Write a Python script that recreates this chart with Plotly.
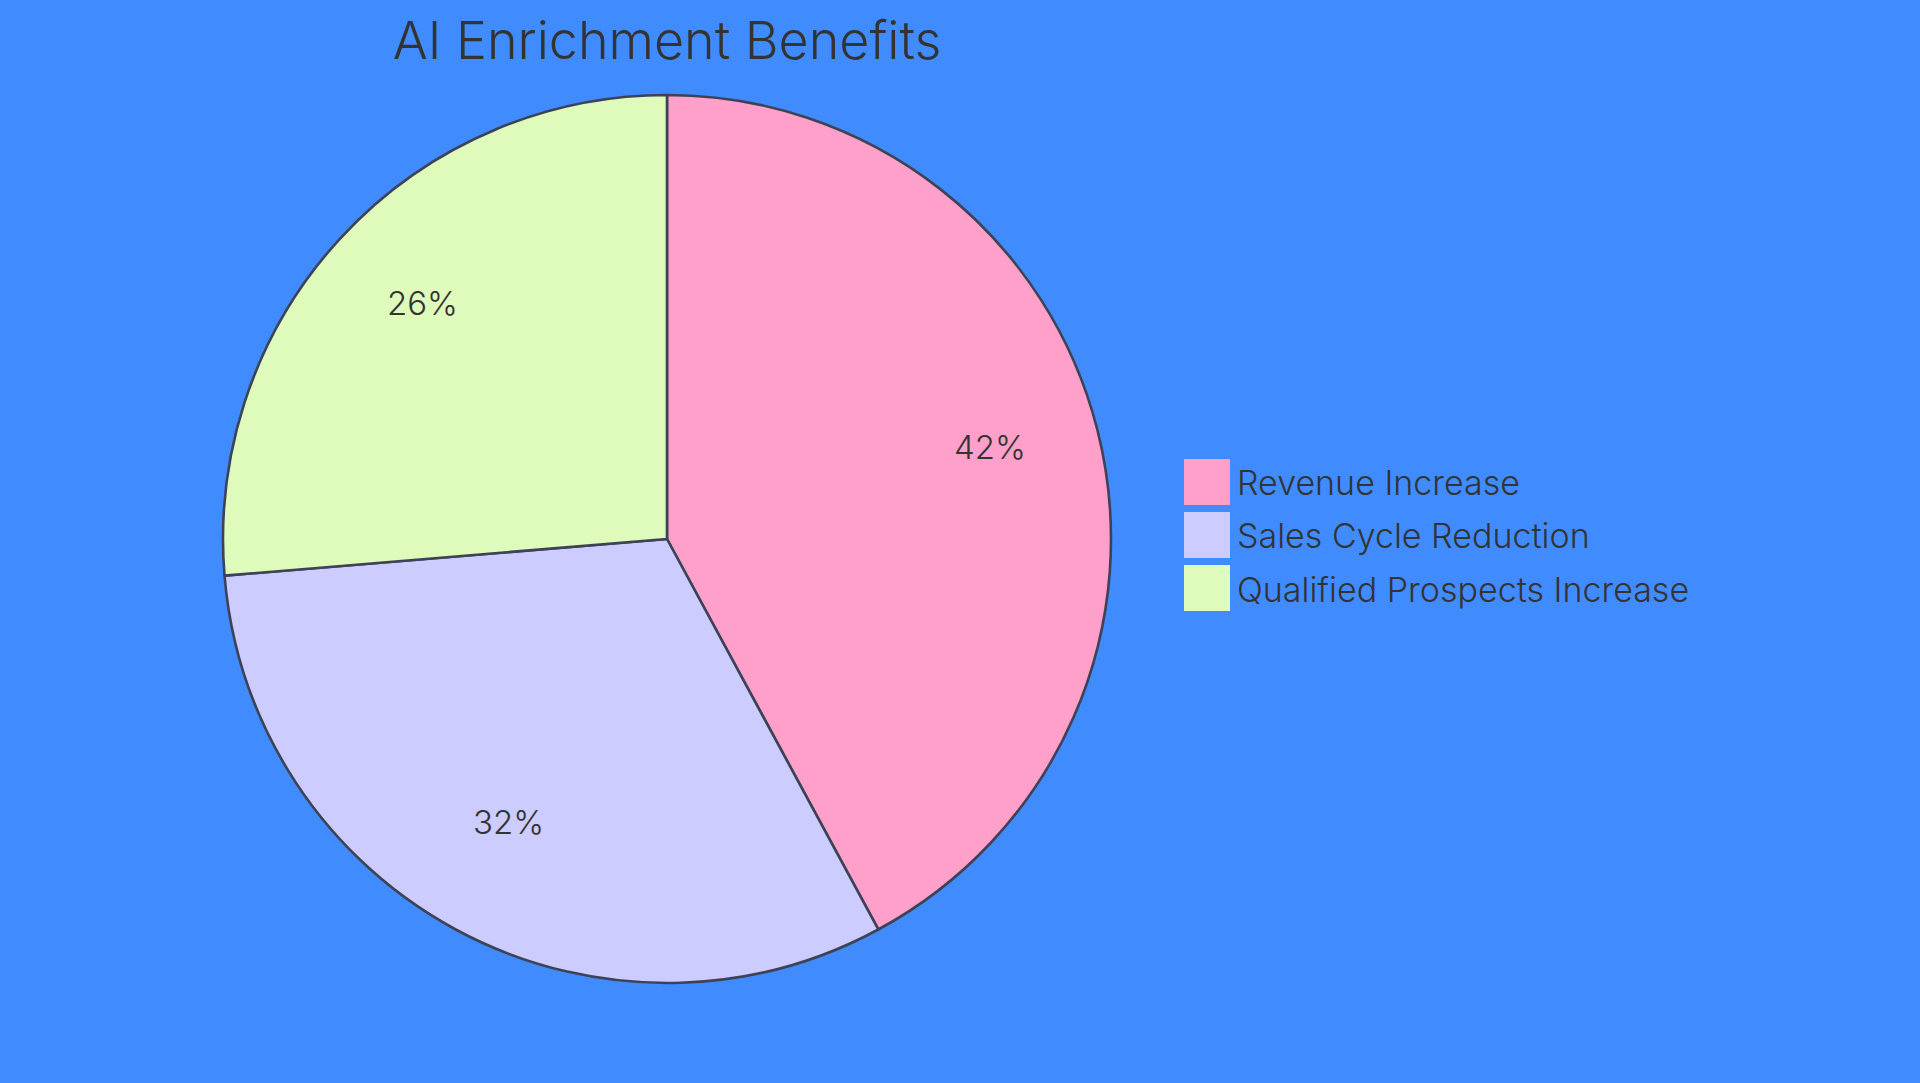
import math
import plotly.graph_objects as go

title = "AI Enrichment Benefits"
labels = ["Revenue Increase", "Sales Cycle Reduction", "Qualified Prospects Increase"]
values = [40, 30, 25]
colors = ["#FFA0CA", "#CCCCFF", "#DEFBBB"]

W, H = 1920, 1083
BG = "#408CFF"
TXT = "#333333"
FONT = "Inter, Noto Sans, sans-serif"
WEIGHT = 300
cx, cy, r = 667, 539, 444

def px(x):
    return x / W

def py(y):
    return 1 - y / H

fig = go.Figure()
fig.add_trace(go.Pie(
    labels=labels, values=values, sort=False, direction="clockwise", rotation=0,
    marker=dict(colors=colors, line=dict(color="#3D4257", width=2.6)),
    textinfo="none", hoverinfo="label+percent", showlegend=False,
    domain=dict(x=[px(cx - r), px(cx + r)], y=[py(cy + r), py(cy - r)]),
))

annotations = []
total = sum(values)
cum = 0
for v in values:
    mid = (cum + v / 2) / total * 2 * math.pi
    cum += v
    ax = cx + 0.75 * r * math.sin(mid)
    ay = cy - 0.75 * r * math.cos(mid) - 10
    annotations.append(dict(
        x=px(ax), y=py(ay), xref="paper", yref="paper",
        text=f"{round(v / total * 100)}%", showarrow=False,
        xanchor="center", yanchor="middle",
        font=dict(family=FONT, size=33, color=TXT, weight=WEIGHT),
    ))

shapes = []
lx, ly0, sq, step = 1184, 459, 46, 53
for i, (lab, col) in enumerate(zip(labels, colors)):
    y0 = ly0 + i * step
    shapes.append(dict(
        type="rect", xref="paper", yref="paper",
        x0=px(lx), x1=px(lx + sq), y0=py(y0 + sq), y1=py(y0),
        fillcolor=col, line=dict(width=0),
    ))
    annotations.append(dict(
        x=px(lx + sq + 5), y=py(y0 + sq / 2 + 1), xref="paper", yref="paper",
        text=lab, showarrow=False, xanchor="left", yanchor="middle",
        font=dict(family=FONT, size=34, color=TXT, weight=WEIGHT),
    ))

fig.update_layout(
    width=W, height=H,
    margin=dict(l=0, r=0, t=0, b=0),
    paper_bgcolor=BG, plot_bgcolor=BG,
    title=dict(text=title, x=px(cx), y=py(41), xanchor="center", yanchor="middle",
               font=dict(family=FONT, size=52, color=TXT, weight=WEIGHT)),
    annotations=annotations, shapes=shapes,
)

fig.write_html(
    "out.html",
    config={"displayModeBar": False},
    post_script="document.body.style.margin='0';document.body.style.overflow='hidden';document.body.style.background='#408CFF';",
)
